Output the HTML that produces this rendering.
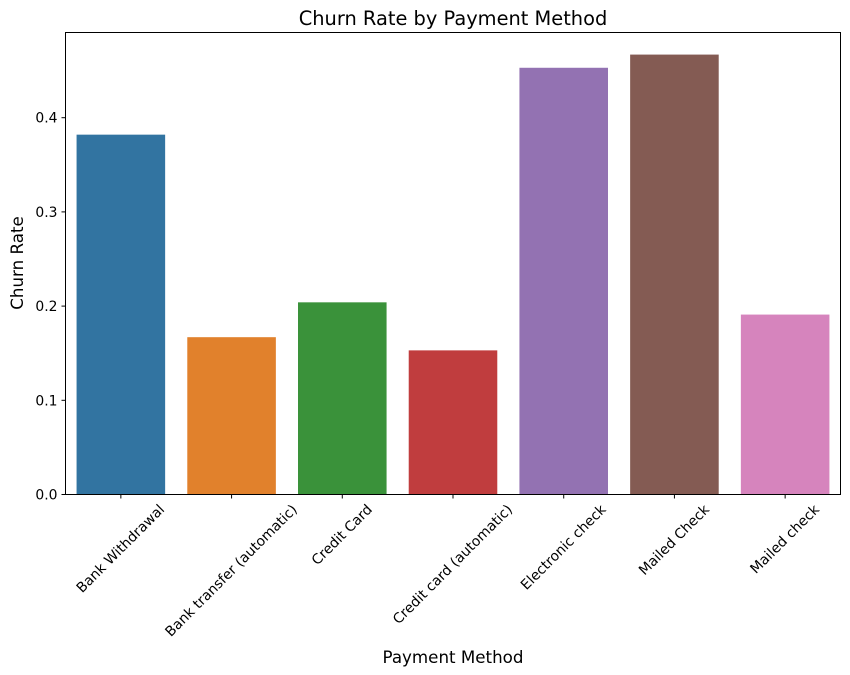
<!DOCTYPE html>
<html><head><meta charset="utf-8"><style>
body{margin:0;background:#fff;}
svg{display:block;font-family:"DejaVu Sans","Liberation Sans",sans-serif;}
</style></head><body>
<svg id="chart" width="850" height="675">
<text x="453" y="25" text-anchor="middle" font-size="19.4">Churn Rate by Payment Method</text>
<text x="453" y="663" text-anchor="middle" font-size="16.7">Payment Method</text>
<text transform="translate(23,263) rotate(-90)" text-anchor="middle" font-size="16.7">Churn Rate</text>
<g id="bars"></g><g id="xt"></g><g id="yt"></g>
<rect x="65.5" y="32.5" width="775" height="462" fill="none" stroke="#000" stroke-width="1"/>
</svg>
<script>
const categories=["Bank Withdrawal","Bank transfer (automatic)","Credit Card","Credit card (automatic)","Electronic check","Mailed Check","Mailed check"];
const values=[0.382,0.167,0.204,0.153,0.453,0.467,0.191];
const colors=["#3274a1","#e1812c","#3a923a","#c03d3e","#9372b2","#845b53","#d684bd"];
const yTicks=[0,0.1,0.2,0.3,0.4];
const yTickLabels=["0.0","0.1","0.2","0.3","0.4"];
const L=65.5,R=840.5,B=494.5,PX=942;
const ns="http://www.w3.org/2000/svg";
const step=(R-L)/categories.length;
const xs=i=>L+step*(i+0.5);
const ys=v=>B-v*PX;
const bars=document.getElementById('bars'),xt=document.getElementById('xt'),yt=document.getElementById('yt');
values.forEach((v,i)=>{
 const r=document.createElementNS(ns,'rect');
 r.setAttribute('x',xs(i)-step*0.4);r.setAttribute('width',step*0.8);
 r.setAttribute('y',ys(v));r.setAttribute('height',B-ys(v));r.setAttribute('fill',colors[i]);
 
 
 bars.appendChild(r);
 const t=document.createElementNS(ns,'line');
 t.setAttribute('x1',xs(i));t.setAttribute('x2',xs(i));t.setAttribute('y1',B);t.setAttribute('y2',B+4);t.setAttribute('stroke','#000');
 
 
 xt.appendChild(t);
 const tx=document.createElementNS(ns,'text');
 tx.setAttribute('text-anchor','middle');tx.setAttribute('font-size','13.9');
 tx.setAttribute('dominant-baseline','central');
 tx.textContent=categories[i];
 
 
 xt.appendChild(tx);
 const w=tx.getComputedTextLength();
 const cy=B+8+(w+14)*0.7071/2;
 tx.setAttribute('transform',`translate(${xs(i)},${cy}) rotate(-45)`);
});
yTicks.forEach((v,i)=>{
 const t=document.createElementNS(ns,'line');
 t.setAttribute('x1',L-4);t.setAttribute('x2',L);t.setAttribute('y1',ys(v));t.setAttribute('y2',ys(v));t.setAttribute('stroke','#000');
 
 
 yt.appendChild(t);
 const tx=document.createElementNS(ns,'text');
 tx.setAttribute('x',L-8);tx.setAttribute('y',ys(v)+5);tx.setAttribute('text-anchor','end');tx.setAttribute('font-size','13.9');
 tx.textContent=yTickLabels[i];
 
 
 yt.appendChild(tx);
});
</script>
</body></html>
